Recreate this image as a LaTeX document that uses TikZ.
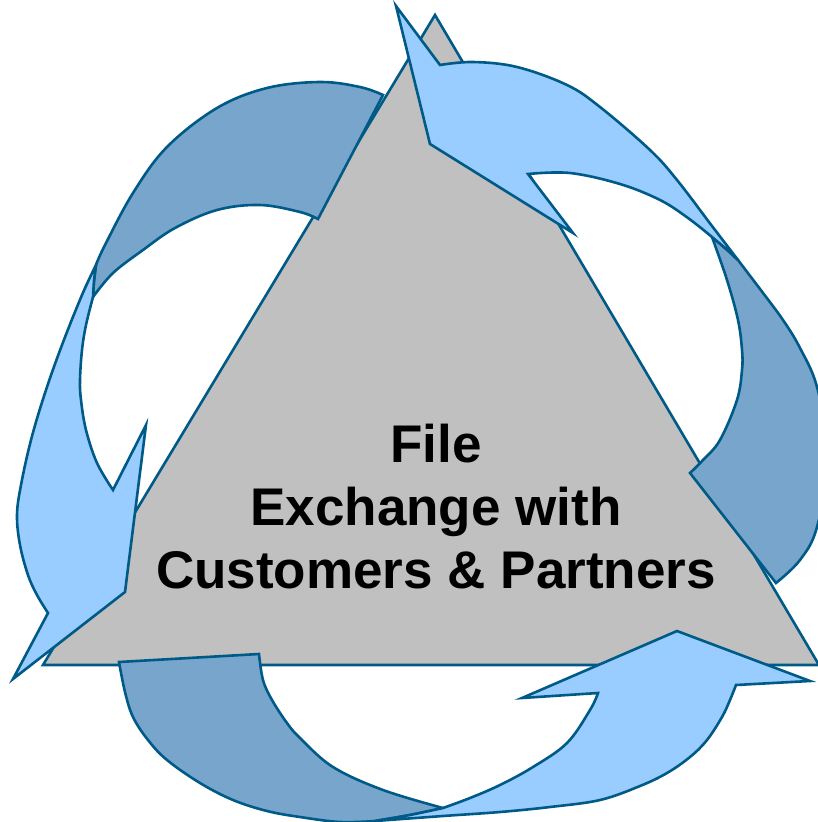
\documentclass[tikz,border=0pt]{standalone}
\usepackage{fontspec}
\setmainfont{Liberation Sans}
\definecolor{ol}{HTML}{005A87}
\definecolor{dk}{HTML}{78A5CC}
\definecolor{lt}{HTML}{99CCFF}
\definecolor{tri}{HTML}{C0C0C0}
\begin{document}
\begin{tikzpicture}[x=1pt,y=-1pt,
  piece/.style={draw=ol, line width=2.6pt, line join=miter},
  darkpiece/.style={piece, fill=dk},
  lightpiece/.style={piece, fill=lt},
  tribox/.style={piece, fill=tri},
  label/.style={anchor=base, font=\fontsize{53}{64}\selectfont\bfseries, inner sep=0pt}]
\useasboundingbox (0,0) rectangle (817,822);
% central triangle
\path[tribox] (435,15) -- (43,665) -- (819,665) -- cycle;
% dark tails
\path[darkpiece] (690,473) -- (776,583)
  -- plot[smooth,tension=0.6] coordinates {(776,583) (800,560) (817,527) (829,455) (817,387) (800,348) (783,320) (760,289) (738,260)}
  -- plot[smooth] coordinates {(738,260) (725,248) (712,237)}
  -- plot[smooth,tension=0.6] coordinates {(712,237) (727,280) (738,320) (742,350) (742,370) (737,400) (720,440) (703,460) (690,473)}
  -- cycle;
\path[darkpiece] (318,219) -- (383,95)
  -- plot[smooth,tension=0.6] coordinates {(383,95) (360,87) (320,82) (267,88) (217,108) (167,147) (133,193) (105,245) (96,265)}
  -- plot[smooth] coordinates {(96,265) (94,281) (93,297)}
  -- plot[smooth,tension=0.6] coordinates {(93,297) (113,273) (143,250) (175,228) (217,210) (260,205) (300,212) (318,219)}
  -- cycle;
\path[darkpiece] (259,654) -- (119,662)
  -- plot[smooth,tension=0.6] coordinates {(119,662) (125,692) (133,717) (148,740) (167,760) (200,783) (233,800) (267,811) (300,817) (340,822) (375,821)}
  -- plot[smooth] coordinates {(375,821) (410,815) (443,808)}
  -- plot[smooth,tension=0.6] coordinates {(443,808) (383,790) (333,767) (300,738) (287,723) (272,700) (263,680) (259,654)}
  -- cycle;
% light heads
\path[lightpiece] (738,260)
  -- plot[smooth,tension=0.6] coordinates {(738,260) (712,226) (677,180) (650,150) (600,107) (567,85) (517,67) (473,62) (440,65)}
  -- (396,6) -- (430,144) -- (573,233) -- (528,174)
  -- plot[smooth,tension=0.6] coordinates {(528,174) (570,173) (620,184) (660,200) (688,218) (712,237)}
  -- plot[smooth] coordinates {(712,237) (725,248) (738,260)}
  -- cycle;
\path[lightpiece] (96,265)
  -- plot[smooth,tension=0.6] coordinates {(96,265) (82,295) (62,345) (45,393) (31,440) (21,485) (17,515) (20,545) (28,575) (37,595) (48,613)}
  -- (13,679) -- (125,592) -- (146,425) -- (113,490)
  -- plot[smooth,tension=0.6] coordinates {(113,490) (97,463) (86,430) (81,400) (80,380) (82,350) (86,325) (93,297)}
  -- plot[smooth] coordinates {(93,297) (94,281) (96,265)}
  -- cycle;
\path[lightpiece] (375,821)
  -- plot[smooth,tension=0.6] coordinates {(375,821) (443,816) (500,812) (550,807) (600,800) (640,786) (667,773) (690,757) (707,740) (722,717) (730,700) (736,685)}
  -- (810,681) -- (677,631) -- (522,698) -- (598,693)
  -- plot[smooth,tension=0.6] coordinates {(598,693) (590,710) (567,743) (533,767) (500,785) (470,798) (443,808)}
  -- plot[smooth] coordinates {(443,808) (410,815) (375,821)}
  -- cycle;
% text
\node[label] (l1) at (436,462) {File};
\node[label] (l2) at (436,525) {Exchange with};
\node[label] (l3) at (436,588) {Customers \& Partners};
\end{tikzpicture}
\end{document}
